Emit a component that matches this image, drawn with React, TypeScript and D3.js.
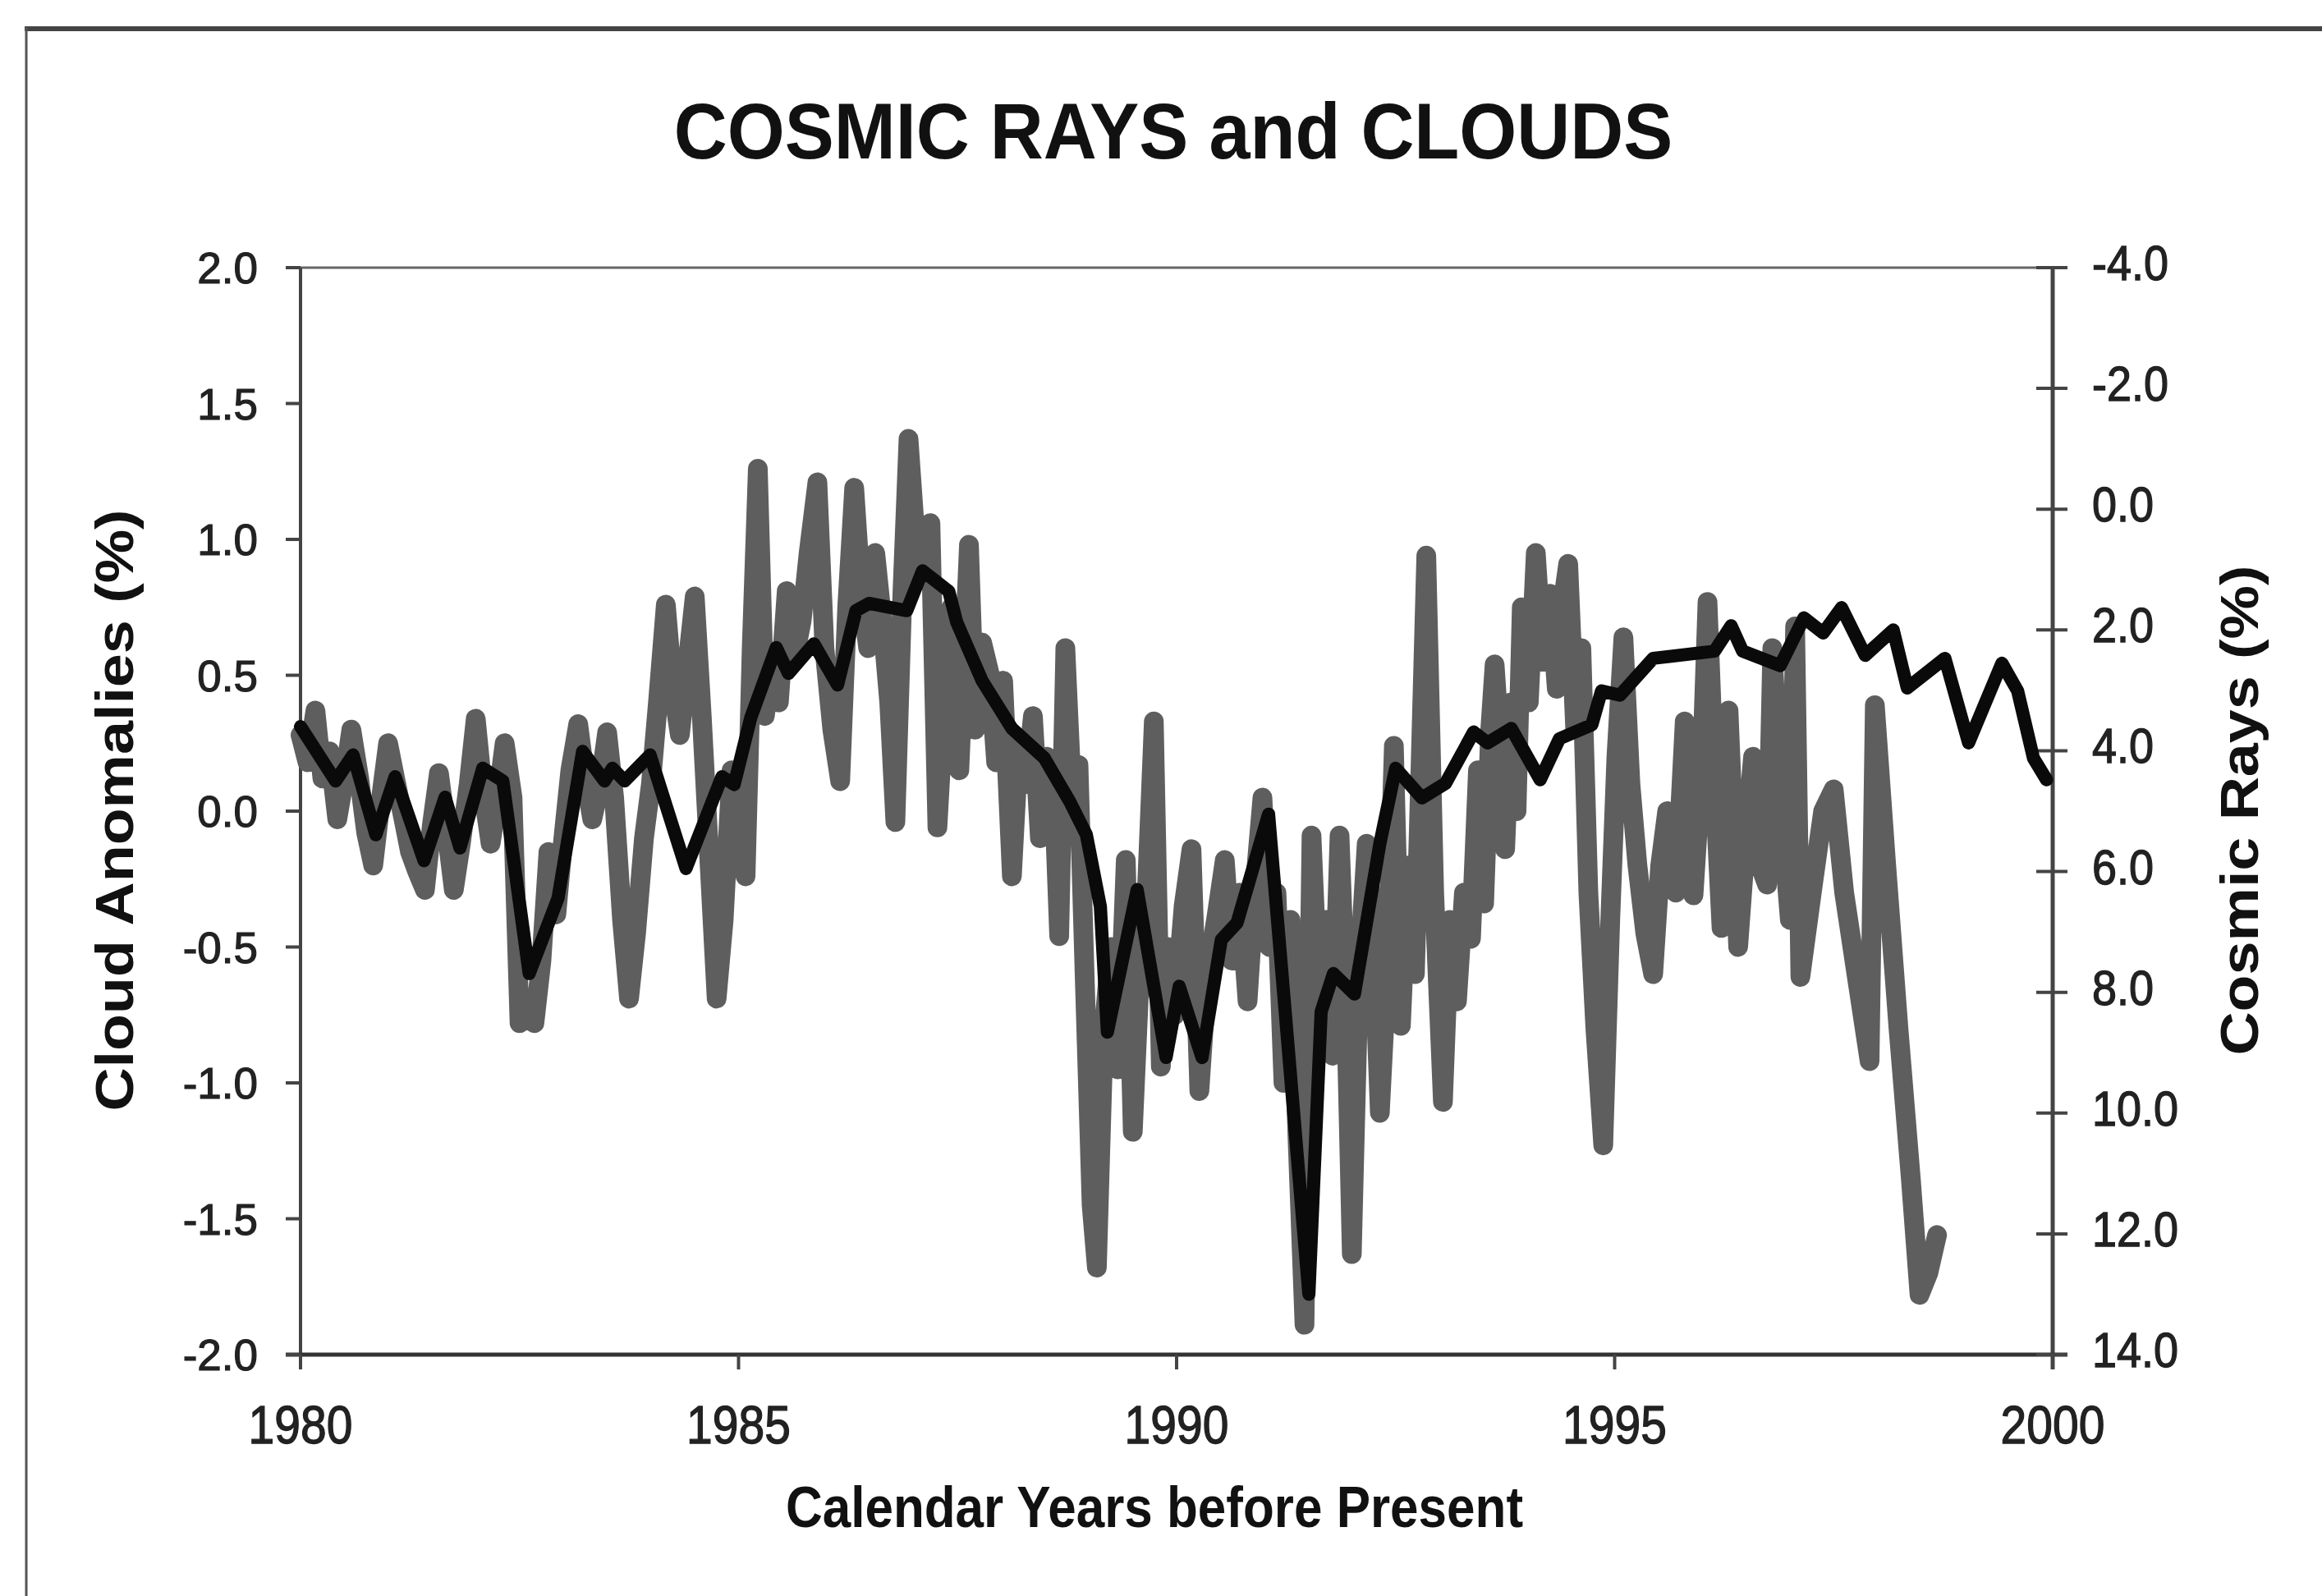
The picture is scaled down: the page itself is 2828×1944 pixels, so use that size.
import React from 'react';
import * as d3 from 'd3';

const xTicks: number[] = [1980, 1985, 1990, 1995, 2000];
const leftTicks: number[] = [2.0, 1.5, 1.0, 0.5, 0.0, -0.5, -1.0, -1.5, -2.0];
const rightTicks: number[] = [-4, -2, 0, 2, 4, 6, 8, 10, 12, 14];

// Cloud anomalies (%), left axis: [year, value]
const cloud: [number, number][] = [
  [1980.00, 0.28], [1980.08, 0.18], [1980.17, 0.37], [1980.25, 0.12], [1980.33, 0.22], [1980.42, -0.03],
  [1980.50, 0.12], [1980.58, 0.30], [1980.67, 0.12], [1980.75, -0.08], [1980.83, -0.20], [1980.92, 0.05],
  [1981.00, 0.25], [1981.08, 0.12], [1981.17, -0.02], [1981.25, -0.15], [1981.33, -0.22], [1981.42, -0.29],
  [1981.50, -0.05], [1981.58, 0.14], [1981.67, -0.08], [1981.75, -0.29], [1981.83, -0.12], [1981.92, 0.10],
  [1982.00, 0.34], [1982.08, 0.08], [1982.17, -0.12], [1982.25, 0.05], [1982.33, 0.25], [1982.42, 0.05],
  [1982.50, -0.78], [1982.58, -0.72], [1982.67, -0.78], [1982.75, -0.55], [1982.83, -0.15], [1982.92, -0.38],
  [1983.00, -0.10], [1983.08, 0.15], [1983.17, 0.32], [1983.25, 0.12], [1983.33, -0.03], [1983.42, 0.10],
  [1983.50, 0.29], [1983.58, 0.05], [1983.67, -0.40], [1983.75, -0.69], [1983.83, -0.45], [1983.92, -0.10],
  [1984.00, 0.10], [1984.08, 0.40], [1984.17, 0.76], [1984.25, 0.45], [1984.33, 0.28], [1984.42, 0.55],
  [1984.50, 0.79], [1984.58, 0.35], [1984.67, -0.20], [1984.75, -0.69], [1984.83, -0.40], [1984.92, 0.15],
  [1985.00, -0.05], [1985.08, -0.24], [1985.15, 0.60], [1985.22, 1.26], [1985.30, 0.35], [1985.38, 0.55],
  [1985.46, 0.40], [1985.55, 0.81], [1985.63, 0.55], [1985.72, 0.70], [1985.80, 0.95], [1985.90, 1.21],
  [1985.98, 0.60], [1986.07, 0.30], [1986.16, 0.11], [1986.24, 0.75], [1986.32, 1.19], [1986.40, 0.80],
  [1986.48, 0.60], [1986.56, 0.95], [1986.64, 0.70], [1986.72, 0.40], [1986.79, -0.04], [1986.87, 0.80],
  [1986.94, 1.37], [1987.02, 1.00], [1987.10, 0.85], [1987.19, 1.06], [1987.27, -0.06], [1987.35, 0.40],
  [1987.43, 0.75], [1987.52, 0.15], [1987.63, 0.98], [1987.70, 0.30], [1987.78, 0.62], [1987.87, 0.50],
  [1987.94, 0.18], [1988.02, 0.48], [1988.12, -0.24], [1988.20, 0.25], [1988.28, 0.10], [1988.36, 0.35],
  [1988.44, -0.10], [1988.52, 0.20], [1988.60, 0.05], [1988.66, -0.46], [1988.73, 0.60], [1988.80, 0.10],
  [1988.88, 0.17], [1988.95, -0.60], [1989.03, -1.45], [1989.09, -1.68], [1989.17, -0.80], [1989.25, -0.50],
  [1989.33, -0.95], [1989.42, -0.18], [1989.50, -1.18], [1989.58, -0.60], [1989.66, -0.30], [1989.74, 0.33],
  [1989.82, -0.94], [1989.90, -0.50], [1989.98, -0.75], [1990.08, -0.35], [1990.17, -0.14], [1990.26, -1.03],
  [1990.35, -0.60], [1990.45, -0.40], [1990.55, -0.18], [1990.63, -0.55], [1990.72, -0.30], [1990.81, -0.70],
  [1990.90, -0.25], [1990.98, 0.05], [1991.06, -0.50], [1991.14, -0.30], [1991.22, -1.00], [1991.30, -0.40],
  [1991.38, -1.20], [1991.46, -1.89], [1991.54, -0.09], [1991.62, -0.70], [1991.70, -0.40], [1991.78, -0.90],
  [1991.86, -0.09], [1991.94, -0.80], [1992.00, -1.63], [1992.08, -0.60], [1992.17, -0.12], [1992.25, -0.50],
  [1992.32, -1.11], [1992.40, -0.60], [1992.48, 0.24], [1992.56, -0.79], [1992.64, -0.20], [1992.72, -0.60],
  [1992.85, 0.94], [1992.94, -0.30], [1993.04, -1.07], [1993.12, -0.40], [1993.20, -0.70], [1993.28, -0.30],
  [1993.36, -0.47], [1993.44, 0.15], [1993.51, -0.34], [1993.58, 0.30], [1993.63, 0.54], [1993.70, 0.20],
  [1993.75, -0.14], [1993.82, 0.40], [1993.88, 0.00], [1993.94, 0.75], [1994.02, 0.40], [1994.10, 0.95],
  [1994.18, 0.55], [1994.26, 0.80], [1994.34, 0.45], [1994.40, 0.75], [1994.47, 0.91], [1994.55, 0.30],
  [1994.62, 0.60], [1994.70, -0.30], [1994.78, -0.80], [1994.87, -1.23], [1994.95, -0.40], [1995.02, 0.20],
  [1995.10, 0.64], [1995.18, 0.10], [1995.26, -0.20], [1995.35, -0.45], [1995.44, -0.60], [1995.52, -0.20],
  [1995.60, 0.00], [1995.70, -0.30], [1995.80, 0.33], [1995.90, -0.31], [1996.00, 0.20], [1996.06, 0.77],
  [1996.14, 0.10], [1996.22, -0.43], [1996.30, 0.37], [1996.41, -0.50], [1996.50, -0.10], [1996.58, 0.20],
  [1996.66, -0.20], [1996.74, -0.27], [1996.80, 0.60], [1996.90, 0.00], [1997.00, -0.40], [1997.06, 0.68],
  [1997.12, -0.61], [1997.25, -0.30], [1997.38, 0.00], [1997.50, 0.08], [1997.62, -0.30], [1997.76, -0.60],
  [1997.91, -0.92], [1997.97, 0.39], [1998.10, -0.20], [1998.24, -0.80], [1998.38, -1.35], [1998.48, -1.78],
  [1998.58, -1.70], [1998.68, -1.56],
];

// Cosmic rays (%), right (inverted) axis: [year, value]
const cosmic: [number, number][] = [
  [1980.00, 3.60], [1980.40, 4.50], [1980.60, 4.07], [1980.86, 5.39], [1981.08, 4.43], [1981.41, 5.82],
  [1981.65, 4.77], [1981.82, 5.61], [1982.08, 4.29], [1982.31, 4.50], [1982.61, 7.69], [1982.94, 6.44],
  [1983.22, 4.01], [1983.47, 4.50], [1983.56, 4.29], [1983.70, 4.50], [1983.99, 4.07], [1984.40, 5.95],
  [1984.81, 4.43], [1984.95, 4.56], [1985.14, 3.45], [1985.43, 2.29], [1985.57, 2.72], [1985.86, 2.23],
  [1986.13, 2.91], [1986.34, 1.68], [1986.49, 1.56], [1986.92, 1.68], [1987.10, 1.02], [1987.40, 1.36],
  [1987.49, 1.87], [1987.78, 2.84], [1988.12, 3.63], [1988.49, 4.12], [1988.78, 4.84], [1988.97, 5.39],
  [1989.13, 6.58], [1989.21, 8.66], [1989.55, 6.30], [1989.88, 9.08], [1990.03, 7.90], [1990.29, 9.08],
  [1990.51, 7.13], [1990.69, 6.85], [1991.05, 5.05], [1991.51, 13.0], [1991.65, 8.32], [1991.79, 7.69],
  [1992.03, 8.03], [1992.32, 5.54], [1992.50, 4.29], [1992.80, 4.78], [1993.07, 4.54], [1993.39, 3.69],
  [1993.55, 3.87], [1993.82, 3.63], [1994.15, 4.48], [1994.37, 3.80], [1994.74, 3.57], [1994.85, 3.01],
  [1995.06, 3.08], [1995.44, 2.47], [1996.14, 2.35], [1996.33, 1.93], [1996.46, 2.35], [1996.89, 2.59],
  [1997.16, 1.80], [1997.38, 2.05], [1997.59, 1.63], [1997.86, 2.42], [1998.18, 2.00], [1998.34, 2.96],
  [1998.77, 2.47], [1999.04, 3.87], [1999.42, 2.55], [1999.60, 3.01], [1999.78, 4.12], [1999.93, 4.48],
];

const FONT = "'Liberation Sans', Arial, Helvetica, sans-serif";

export default function App() {
  const W = 2828, H = 1944;
  const L = 366, R = 2500, T = 326, B = 1650;
  const x = d3.scaleLinear().domain([1980, 2000]).range([L, R]);
  const yL = d3.scaleLinear().domain([-2, 2]).range([B, T]);
  const yR = d3.scaleLinear().domain([-4, 14]).range([T, B]);

  const cloudPath = d3.line<[number, number]>().x(d => x(d[0])).y(d => yL(d[1]))(cloud) || '';
  const cosmicPath = d3.line<[number, number]>().x(d => x(d[0])).y(d => yR(d[1]))(cosmic) || '';

  const tickText = { fill: '#222', stroke: '#222', strokeWidth: 1.2 };

  return (
    <svg width={W} height={H} viewBox={`0 0 ${W} ${H}`}
      style={{ position: 'absolute', left: 0, top: 0, background: '#fff' }}
      fontFamily={FONT}>
      <rect x={0} y={0} width={W} height={H} fill="#fff" />
      {/* outer frame */}
      <line x1={30} x2={W} y1={35} y2={35} stroke="#444" strokeWidth={6} />
      <line x1={32} x2={32} y1={33} y2={H} stroke="#555" strokeWidth={3} />

      {/* title */}
      <text transform={`translate(1429,193) scale(1,1.08)`} textAnchor="middle"
        fontSize={90} fontWeight="bold" fill="#111">COSMIC RAYS and CLOUDS</text>

      {/* plot frame */}
      <line x1={L} x2={R} y1={T} y2={T} stroke="#666" strokeWidth={3} />
      <line x1={L} x2={L} y1={T} y2={B + 18} stroke="#444" strokeWidth={4} />
      <line x1={R} x2={R} y1={T} y2={B + 18} stroke="#444" strokeWidth={5} />
      <line x1={L - 18} x2={R + 18} y1={B} y2={B} stroke="#333" strokeWidth={5} />

      {/* left ticks */}
      {leftTicks.map(v => (
        <g key={'l' + v}>
          <line x1={L - 18} x2={L} y1={yL(v)} y2={yL(v)} stroke="#444" strokeWidth={4} />
          <text x={314} y={yL(v) + 19} textAnchor="end" fontSize={53} {...tickText}>{v.toFixed(1)}</text>
        </g>
      ))}

      {/* right ticks */}
      {rightTicks.map(v => (
        <g key={'r' + v}>
          <line x1={R - 20} x2={R + 18} y1={yR(v)} y2={yR(v)} stroke="#444" strokeWidth={4} />
          <text transform={`translate(2548,${yR(v) + 15}) scale(1,1.1)`} fontSize={54} {...tickText}>{v.toFixed(1)}</text>
        </g>
      ))}

      {/* x ticks */}
      {xTicks.map(v => (
        <g key={'x' + v}>
          <line x1={x(v)} x2={x(v)} y1={B} y2={B + 18} stroke="#444" strokeWidth={4} />
          <text transform={`translate(${x(v)},1758) scale(1,1.15)`} textAnchor="middle" fontSize={57} {...tickText}>{v}</text>
        </g>
      ))}

      {/* axis titles */}
      <text transform={`translate(1406,1860) scale(1,1.15)`} textAnchor="middle" fontSize={62}
        fontWeight="bold" fill="#111">Calendar Years before Present</text>
      <text transform={`translate(162,987) scale(1,1.15) rotate(-90)`} textAnchor="middle" fontSize={64}
        fontWeight="bold" fill="#111">Cloud Anomalies (%)</text>
      <text transform={`translate(2750,987) scale(1,1.15) rotate(-90)`} textAnchor="middle" fontSize={64}
        fontWeight="bold" fill="#111">Cosmic Rays (%)</text>

      {/* series */}
      <path d={cloudPath} fill="none" stroke="#5e5e5e" strokeWidth={24}
        strokeLinejoin="round" strokeLinecap="round" />
      <path d={cosmicPath} fill="none" stroke="#0a0a0a" strokeWidth={16}
        strokeLinejoin="round" strokeLinecap="round" />
    </svg>
  );
}
